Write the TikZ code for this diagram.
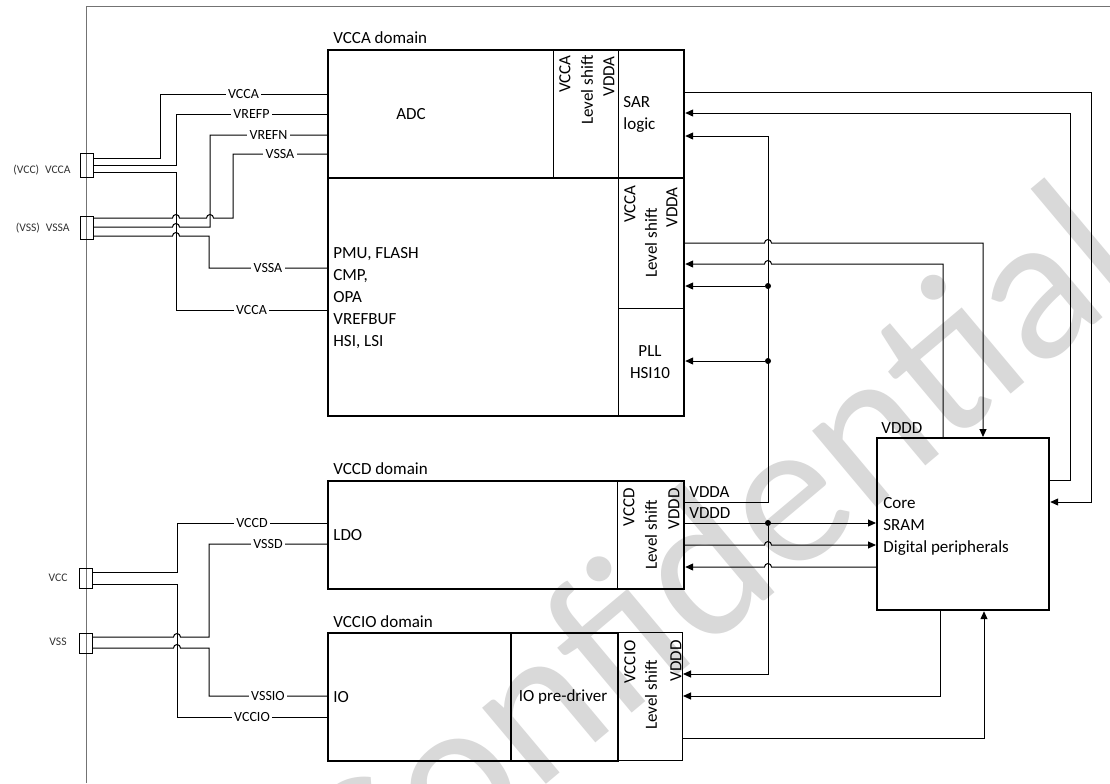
\documentclass[tikz,border=0pt]{standalone}
\usepackage{fontspec}
\setmainfont{Carlito}
\usetikzlibrary{arrows.meta}
% small bridge where a wire crosses another one
\newcommand{\hopr}[2]{-- (#1-3.5,#2) arc[start angle=180,end angle=0,radius=1.75pt]}
\newcommand{\hopl}[2]{-- (#1+3.5,#2) arc[start angle=0,end angle=180,radius=1.75pt]}
\begin{document}
\begin{tikzpicture}[x=0.5pt, y=-0.5pt, >={Triangle[length=4pt,width=3.5pt]},
  every node/.style={inner sep=0pt},
  blk/.style={draw, line width=1.1pt, anchor=north west},
  lsbox/.style={draw, line width=0.5pt, anchor=north west},
  wire/.style={line width=0.5pt},
  lbl/.style={fill=white, inner xsep=1.2pt, inner ysep=0.5pt, font=\fontsize{7}{8}\selectfont},
  pin/.style={draw, line width=0.5pt, anchor=north west},
  pintxt/.style={anchor=east, font=\fontsize{5.8}{7}\selectfont, text=black!80},
  txt/.style={font=\fontsize{8.5}{11}\selectfont},
  vtxt/.style={txt, rotate=90},
  dot/.style={circle, fill, minimum size=3pt}]
\fill[white] (0,0) rectangle (1110,783);
\useasboundingbox (0,0) rectangle (1110,783);
\begin{scope}
\clip (0,0) rectangle (1110,783);
\node[rotate=40, text=black!15, font=\fontsize{104}{104}\selectfont] (mark) at (712,552) {Confidential};
\end{scope}
\draw[wire, black!55] (86,783) -- (86,6) -- (1110,6);

% blocks
\node[blk, minimum width=178pt, minimum height=183pt] (vcca) at (327,49) {};
\node[blk, minimum width=178pt, minimum height=54pt] (vccd) at (327,480) {};
\node[lsbox, minimum width=32.5pt, minimum height=64pt] (lsio) at (617,632) {};
\node[blk, minimum width=145pt, minimum height=64pt] (vccio) at (327,632) {};
\node[blk, minimum width=53.5pt, minimum height=64pt] (drv) at (510,632) {};
\node[blk, minimum width=86pt, minimum height=86pt] (core) at (876,437) {};
\draw[line width=1.1pt] (vcca.west |- 0,178) -- (vcca.east |- 0,178);
\draw[wire] (553,49) -- (553,178);
\draw[wire] (618,49) -- (618,415);
\draw[wire] (618,308) -- (683,308);
\draw[wire] (617,480) -- (617,588);

% texts
\node[txt, anchor=west] (tvcca) at (333,38) {VCCA domain};
\node[txt] (adc) at (411,114) {ADC};
\node[txt, anchor=west, align=left] (sar) at (623,114) {SAR\\logic};
\node[txt, anchor=west, align=left] (pmu) at (333,298) {PMU, FLASH\\CMP,\\OPA\\VREFBUF\\HSI, LSI};
\node[txt, align=center] (pll) at (650,362) {PLL\\HSI10};
\node[txt, anchor=west] (tvccd) at (333,469) {VCCD domain};
\node[txt, anchor=west] (ldo) at (333,535) {LDO};
\node[txt, anchor=west] (tvccio) at (333,622) {VCCIO domain};
\node[txt, anchor=west] (io) at (333,697) {IO};
\node[txt] (pre) at (563,697) {IO pre-driver};
\node[txt, anchor=west] (tvddd) at (881,428) {VDDD};
\node[txt, anchor=west, align=left] (cpu) at (883,526) {Core\\SRAM\\Digital peripherals};
\node[txt, anchor=west] (vdda) at (689,492) {VDDA};
\node[txt, anchor=west] (vddd) at (689,513) {VDDD};

\node[vtxt, anchor=east] at (565,55) {VCCA};
\node[vtxt, anchor=east] at (587,55) {Level shift};
\node[vtxt, anchor=east] at (609,56) {VDDA};
\node[vtxt, anchor=east] at (630,185) {VCCA};
\node[vtxt] at (651,243) {Level shift};
\node[vtxt, anchor=east] at (672,187) {VDDA};
\node[vtxt, anchor=east] at (629,488) {VCCD};
\node[vtxt] at (651,535) {Level shift};
\node[vtxt, anchor=east] at (674,488) {VDDD};
\node[vtxt, anchor=east] at (630,640) {VCCIO};
\node[vtxt] at (651,695) {Level shift};
\node[vtxt, anchor=east] at (676,640) {VDDD};

% pins
\node[pin, minimum width=6.5pt, minimum height=12pt] (pvcca) at (80,153) {};
\node[pin, minimum width=6.5pt, minimum height=11.5pt] (pvssa) at (80,216) {};
\node[pin, minimum width=6.5pt, minimum height=10pt] (pvcc) at (79,568) {};
\node[pin, minimum width=6.5pt, minimum height=10pt] (pvss) at (79,633) {};
\node[pintxt] at (71,170) {(VCC)\enspace VCCA};
\node[pintxt] at (70,228) {(VSS)\enspace VSSA};
\node[pintxt] at (68,578) {VCC};
\node[pintxt] at (67,642) {VSS};

% supply wires
\draw[wire] (pvcca.east |- 0,158) -| (160,94) -- node[lbl]{VCCA} (vcca.west |- 0,94);
\draw[wire] (pvcca.east |- 0,165) -| (176,114) -- node[lbl]{VREFP} (vcca.west |- 0,114);
\draw[wire] (pvcca.east |- 0,172) -| (176,310) -- node[lbl]{VCCA} (vcca.west |- 0,310);
\draw[wire] (pvssa.east |- 0,218) \hopr{176}{218} \hopr{210}{218} -| (233,154) -- node[lbl]{VSSA} (vcca.west |- 0,154);
\draw[wire] (pvssa.east |- 0,227) \hopr{176}{227} -| (210,135) -- node[lbl]{VREFN} (vcca.west |- 0,135);
\draw[wire] (pvssa.east |- 0,236) \hopr{176}{236} -| (209,268) -- node[lbl]{VSSA} (vcca.west |- 0,268);
\draw[wire] (pvcc.east |- 0,572) -| (177,523) -- node[lbl]{VCCD} (vccd.west |- 0,523);
\draw[wire] (pvcc.east |- 0,584) -| (177,717) -- node[lbl]{VCCIO} (vccio.west |- 0,717);
\draw[wire] (pvss.east |- 0,637) \hopr{177}{637} -| (209,544) -- node[lbl]{VSSD} (vccd.west |- 0,544);
\draw[wire] (pvss.east |- 0,648) \hopr{177}{648} -| (209,696) -- node[lbl]{VSSIO} (vccio.west |- 0,696);

% signal wires
\node[dot] (d1) at (768,286) {};
\node[dot] (d2) at (768,361) {};
\node[dot] (d3) at (768,523) {};
\draw[wire,->] (vcca.east |- 0,92) -- (1091,92) -- (1091,502) -- (core.east |- 0,502);
\draw[wire,->] (core.east |- 0,480) -- (1070,480) -- (1070,113) -- (vcca.east |- 0,113);
\draw[wire,->] (vccd.east |- 0,502) -- (768,502) -- (768,136) -- (vcca.east |- 0,136);
\draw[wire,->] (d1) -- (vcca.east |- d1);
\draw[wire,->] (d2) -- (vcca.east |- d2);
\draw[wire,->] (vcca.east |- 0,243) \hopr{768}{243} -- (983,243) -- (core.north -| 983,0);
\draw[wire,->] (core.north -| 943,0) -- (943,264) \hopl{768}{264} -- (vcca.east |- 0,264);
\draw[wire,->] (vccd.east |- d3) -- (core.west |- d3);
\draw[wire,->] (d3) -- (768,674) -- (lsio.east |- 0,674);
\draw[wire,->] (vccd.east |- 0,545) \hopr{768}{545} -- (core.west |- 0,545);
\draw[wire,->] (core.west |- 0,567) \hopl{768}{567} -- (vccd.east |- 0,567);
\draw[wire,->] (core.south -| 940,0) -- (940,696) -- (lsio.east |- 0,696);
\draw[wire,->] (lsio.east |- 0,738) -- (984,738) -- (core.south -| 984,0);
\end{tikzpicture}
\end{document}
